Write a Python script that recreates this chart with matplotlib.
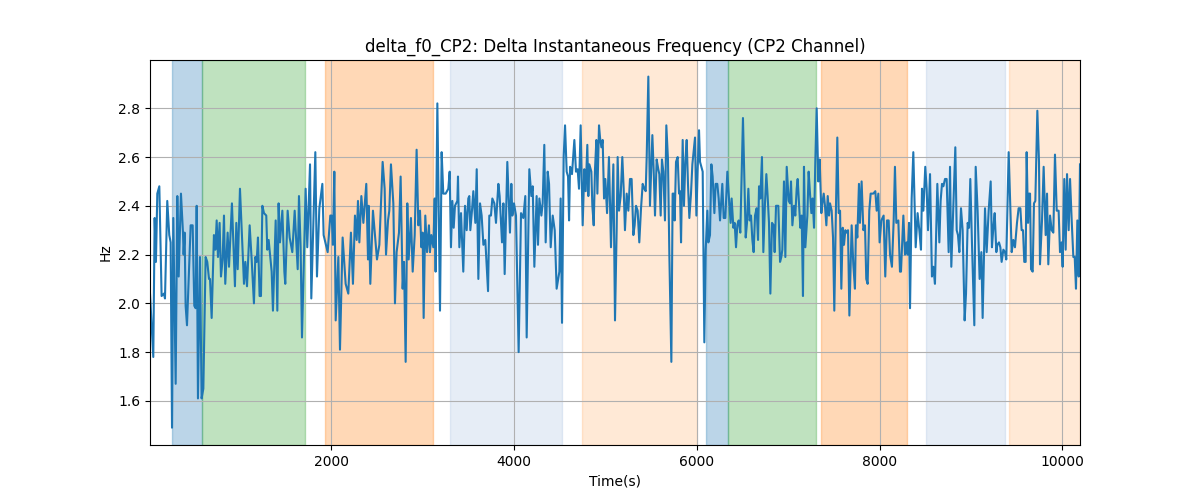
import matplotlib
matplotlib.use("Agg")
import matplotlib.pyplot as plt

# values (turning points of the trace)
time_s = [
    13, 49, 64, 78, 93, 115, 140, 166, 177, 202, 224, 239, 254, 268, 294, 312, 327, 352, 374, 381,
    392, 403, 418, 458, 480, 498, 513, 524, 538, 560, 578, 597, 622, 640, 659, 670, 688, 713, 728, 743,
    757, 775, 790, 808, 823, 837, 863, 878, 910, 943, 958, 973, 998, 1020, 1042, 1057, 1075, 1104, 1126, 1151,
    1166, 1181, 1195, 1213, 1228, 1243, 1261, 1286, 1297, 1312, 1345, 1359, 1389, 1407, 1421, 1436, 1462, 1484, 1494, 1520,
    1542, 1571, 1597, 1630, 1644, 1662, 1677, 1717, 1735, 1765, 1779, 1823, 1841, 1867, 1900, 1914, 1958, 1987, 2002, 2016,
    2031, 2046, 2075, 2093, 2122, 2155, 2184, 2213, 2235, 2257, 2276, 2290, 2305, 2327, 2349, 2381, 2400, 2407, 2425, 2454,
    2476, 2498, 2524, 2560, 2582, 2597, 2619,
    2633, 2651, 2677, 2695, 2713, 2739, 2757, 2779, 2794, 2812, 2830, 2845, 2870, 2889, 2911, 2932, 2951, 2969, 2984, 2998,
    3009, 3027, 3046, 3067, 3078, 3093, 3115, 3130, 3140, 3159, 3188, 3206, 3224, 3250, 3279, 3294, 3308, 3323, 3338, 3352,
    3378, 3385, 3400, 3418, 3443, 3462, 3480, 3498, 3509, 3520, 3538, 3553, 3575, 3590, 3608, 3626, 3644, 3663, 3684, 3714,
    3728, 3746, 3761, 3783, 3801, 3827, 3841, 3867, 3882, 3896, 3925, 3954, 3969, 3980, 3998, 4020, 4049, 4075, 4100, 4122,
    4137, 4166, 4188, 4203, 4221, 4246, 4261, 4276, 4298, 4312, 4330, 4345, 4367, 4382, 4400, 4422, 4444, 4465, 4495, 4509,
    4524, 4542, 4557, 4575, 4590, 4601, 4612, 4633, 4659, 4677, 4695, 4710, 4728, 4750, 4768, 4783, 4801, 4812, 4823, 4845,
    4856, 4871, 4885, 4900, 4911, 4929, 4940, 4955, 4969, 4984, 4998, 5017, 5038, 5060,
    5086, 5104, 5122, 5133, 5148, 5166, 5184, 5199, 5213, 5232, 5250, 5268, 5286, 5305, 5319, 5334, 5352, 5370, 5389, 5407,
    5425, 5440, 5451, 5469, 5487, 5513, 5527, 5542, 5560, 5578, 5589, 5604, 5618, 5633, 5651, 5666, 5684, 5699, 5721, 5735,
    5746, 5757, 5772, 5790, 5805, 5816, 5827, 5845, 5859, 5874, 5889, 5903, 5918, 5936, 5951, 5980, 5995, 6009, 6024, 6035,
    6049, 6064, 6082, 6097, 6115, 6126, 6144, 6159, 6173, 6192, 6206, 6224, 6239, 6254, 6279, 6294, 6312, 6334, 6352, 6370,
    6381, 6400, 6414, 6429, 6443, 6458, 6476, 6505, 6535, 6549, 6564, 6578, 6593, 6608, 6622, 6637, 6655, 6670, 6681, 6695,
    6713, 6728, 6746, 6761, 6775, 6790, 6805, 6823, 6841, 6852, 6867, 6892, 6911, 6925, 6936, 6954, 6969, 6984, 7006, 7020,
    7031, 7046, 7064, 7078, 7093, 7104, 7119, 7133, 7148, 7162, 7173, 7188, 7210, 7224, 7239, 7254, 7268, 7283, 7297, 7312,
    7330, 7345, 7363, 7374, 7389, 7403, 7418, 7433, 7447, 7458, 7476, 7491, 7505, 7524, 7538, 7553, 7568, 7582, 7597, 7611,
    7626, 7641, 7655, 7670,
    7695, 7713, 7731, 7742, 7757, 7775, 7786, 7804, 7823, 7841, 7855, 7870, 7888, 7903, 7932, 7954, 7969, 7987, 8001, 8020,
    8045, 8063, 8082, 8100, 8115, 8136, 8155, 8169, 8184, 8206, 8224, 8235, 8261, 8279, 8297, 8308, 8323, 8334, 8352, 8370,
    8396, 8417, 8436, 8454, 8465, 8480, 8501, 8516, 8531, 8553, 8574, 8589, 8607, 8633, 8655, 8669, 8684, 8699, 8717, 8735,
    8757, 8772, 8786, 8808, 8830, 8845, 8859, 8874, 8892, 8910, 8932, 8947, 8965, 8980, 8994, 9012, 9038, 9053, 9074, 9096,
    9115, 9129, 9155, 9173, 9195, 9217, 9231, 9246, 9261, 9279, 9290, 9308, 9323, 9337, 9356, 9374, 9388, 9414, 9447, 9465,
    9483, 9505, 9523, 9542, 9556, 9571, 9585, 9600, 9611, 9626, 9637, 9648, 9659, 9677, 9691, 9706, 9728, 9746, 9757, 9779,
    9797, 9819, 9834, 9848, 9867, 9885, 9903, 9921, 9940, 9961, 9976, 9994, 10005, 10023, 10038, 10053, 10071, 10086, 10104, 10122,
    10137, 10151, 10166, 10181, 10195,
]
delta_f0 = [
    2.04, 1.78, 2.35, 2.17, 2.45, 2.48, 2.03, 2.04, 2.02, 2.42, 2.28, 2.25, 1.49, 2.35, 1.67, 2.44, 2.11, 2.45, 2.29, 2.20,
    2.29, 1.99, 1.91, 2.32, 2.32, 1.99, 1.98, 2.40, 1.61, 2.19, 1.61, 1.65, 2.19, 2.17, 2.10, 2.10, 1.94, 2.28, 2.22, 2.34,
    2.19, 2.33, 2.11, 2.18, 2.36, 2.08, 2.29, 2.15, 2.41, 2.07, 2.33, 2.14, 2.47, 2.28, 2.08, 2.17, 2.07, 2.32, 2.18, 2.00,
    2.19, 2.17, 2.27, 2.03, 2.03, 2.40, 2.37, 2.36, 2.22, 2.26, 2.13, 1.97, 2.34, 1.97, 2.41, 2.25, 2.38, 2.13, 2.08, 2.38,
    2.27, 2.21, 2.38, 2.14, 2.44, 2.23, 1.86, 2.47, 2.23, 2.57, 2.02, 2.62, 2.11, 2.39, 2.49, 2.28, 2.21, 2.36, 2.36, 2.24,
    2.54, 1.93, 2.19, 1.81, 2.27, 2.08, 2.04, 2.29, 2.08, 2.36, 2.26, 2.42, 2.25, 2.44, 2.33, 2.49, 2.18, 2.40, 2.08, 2.38,
    2.28, 2.18, 2.24, 2.58, 2.47, 2.20, 2.34,
    2.38, 2.57, 2.41, 2.00, 2.21, 2.29, 2.52, 2.06, 2.17, 1.76, 2.41, 2.18, 2.35, 2.13, 2.28, 2.63, 2.32, 2.38, 2.23, 2.29,
    1.94, 2.36, 2.21, 2.32, 2.21, 2.28, 2.23, 2.43, 2.13, 2.82, 1.97, 2.62, 2.45, 2.45, 2.47, 2.54, 2.23, 2.42, 2.31, 2.40,
    2.42, 2.52, 2.23, 2.37, 2.13, 2.40, 2.30, 2.43, 2.44, 2.30, 2.38, 2.46, 2.33, 2.55, 2.10, 2.41, 2.36, 2.24, 2.26, 2.05,
    2.36, 2.36, 2.43, 2.41, 2.33, 2.49, 2.44, 2.25, 2.41, 2.12, 2.58, 2.29, 2.49, 2.36, 2.41, 2.36, 1.80, 2.37, 2.35, 2.44,
    1.86, 2.55, 2.44, 2.48, 2.15, 2.44, 2.24, 2.43, 2.36, 2.41, 2.65, 2.25, 2.54, 2.49, 2.23, 2.36, 2.30, 2.06, 2.13, 2.43,
    1.92, 2.60, 2.73, 2.54, 2.52, 2.34, 2.56, 2.53, 2.67, 2.54, 2.55, 2.47, 2.73, 2.32, 2.55, 2.46, 2.65, 2.44, 2.57, 2.54,
    2.40, 2.32, 2.55, 2.67, 2.45, 2.73, 2.68, 2.64, 2.67, 2.43, 2.51, 2.37, 2.60, 2.23,
    2.57, 1.93, 2.30, 2.60, 2.38, 2.44, 2.60, 2.47, 2.30, 2.45, 2.38, 2.51, 2.51, 2.28, 2.32, 2.40, 2.38, 2.25, 2.39, 2.49,
    2.47, 2.46, 2.60, 2.93, 2.40, 2.69, 2.55, 2.36, 2.59, 2.55, 2.53, 2.36, 2.59, 2.54, 2.34, 2.73, 2.59, 2.20, 1.76, 2.45,
    2.45, 2.34, 2.58, 2.60, 2.45, 2.46, 2.25, 2.67, 2.40, 2.58, 2.67, 2.49, 2.35, 2.45, 2.57, 2.68, 2.36, 2.55, 2.71, 2.58,
    2.56, 2.54, 1.84, 2.22, 2.38, 2.25, 2.28, 2.57, 2.52, 2.37, 2.49, 2.49, 2.43, 2.34, 2.49, 2.35, 2.35, 2.54, 2.43, 2.33,
    2.43, 2.31, 2.33, 2.23, 2.32, 2.34, 2.29, 2.76, 2.27, 2.33, 2.47, 2.34, 2.36, 2.26, 2.21, 2.36, 2.39, 2.26, 2.48, 2.43,
    2.60, 2.21, 2.41, 2.53, 2.44, 2.33, 2.04, 2.33, 2.32, 2.21, 2.40, 2.40, 2.17, 2.19, 2.22, 2.50, 2.19, 2.56, 2.42, 2.41,
    2.50, 2.32, 2.40, 2.36, 2.47, 2.51, 2.41, 2.31, 2.36, 2.03, 2.56, 2.23, 2.36, 2.54, 2.45, 2.37, 2.43, 2.31, 2.58, 2.80,
    2.50, 2.59, 2.37, 2.41, 2.45, 2.40, 2.32, 2.44, 2.36, 2.41, 2.38, 2.27, 1.97, 2.41, 2.68, 2.37, 2.38, 2.06, 2.31, 2.24,
    2.30, 2.29, 2.30, 1.95,
    2.32, 2.16, 2.06, 2.32, 2.27, 2.49, 2.33, 2.50, 2.30, 2.32, 2.10, 2.08, 2.38, 2.45, 2.45, 2.46, 2.38, 2.45, 2.25, 2.34,
    2.36, 2.11, 2.34, 2.34, 2.20, 2.15, 2.34, 2.56, 2.33, 2.34, 2.13, 2.13, 2.36, 2.20, 2.25, 2.20, 2.33, 1.98, 2.43, 2.62,
    2.23, 2.37, 2.30, 2.22, 2.47, 2.38, 2.56, 2.47, 2.30, 2.53, 2.11, 2.15, 2.08, 2.49, 2.25, 2.42, 2.49, 2.48, 2.51, 2.51,
    2.21, 2.56, 2.15, 2.40, 2.64, 2.30, 2.28, 2.21, 2.39, 2.30, 1.93, 2.04, 2.33, 2.31, 2.51, 2.25, 1.91, 2.56, 2.38, 2.10,
    2.21, 1.94, 2.39, 2.21, 2.38, 2.50, 2.23, 2.31, 2.37, 2.21, 2.24, 2.25, 2.23, 2.17, 2.22, 2.21, 2.18, 2.62, 2.21, 2.26,
    2.23, 2.33, 2.39, 2.39, 2.30, 2.30, 2.17, 2.17, 2.62, 2.33, 2.45, 2.45, 2.14, 2.13, 2.41, 2.42, 2.79, 2.58, 2.16, 2.34,
    2.56, 2.28, 2.45, 2.16, 2.36, 2.30, 2.29, 2.61, 2.38, 2.38, 2.21, 2.25, 2.15, 2.51, 2.22, 2.53, 2.30, 2.51, 2.34, 2.19,
    2.19, 2.06, 2.34, 2.11, 2.57,
]

# shaded segments: (start, end, colour, alpha)
span_start = [257, 578, 1932, 3297, 4743, 6100, 6345, 7360, 8509, 9418]
span_end = [578, 1706, 3111, 4524, 5998, 6345, 7305, 8301, 9370, 10195]
span_color = ["tab:blue", "tab:green", "tab:orange", "#5b87c9", "tab:orange",
              "tab:blue", "tab:green", "tab:orange", "#5b87c9", "tab:orange"]
span_alpha = [0.3, 0.3, 0.3, 0.15, 0.17, 0.3, 0.3, 0.3, 0.15, 0.17]

fig, ax = plt.subplots(figsize=(12, 5), dpi=100)

for s, e, c, a in zip(span_start, span_end, span_color, span_alpha):
    ax.axvspan(s, e, color=c, alpha=a)

ax.plot(time_s, delta_f0, color="tab:blue", linewidth=1.5)

ax.set_xlim(time_s[0], time_s[-1])
ax.set_ylim(1.419, 2.998)
ax.set_title("delta_f0_CP2: Delta Instantaneous Frequency (CP2 Channel)")
ax.set_xlabel("Time(s)")
ax.set_ylabel("Hz")
ax.grid(True, color="#b0b0b0")

fig.savefig("out.png")
